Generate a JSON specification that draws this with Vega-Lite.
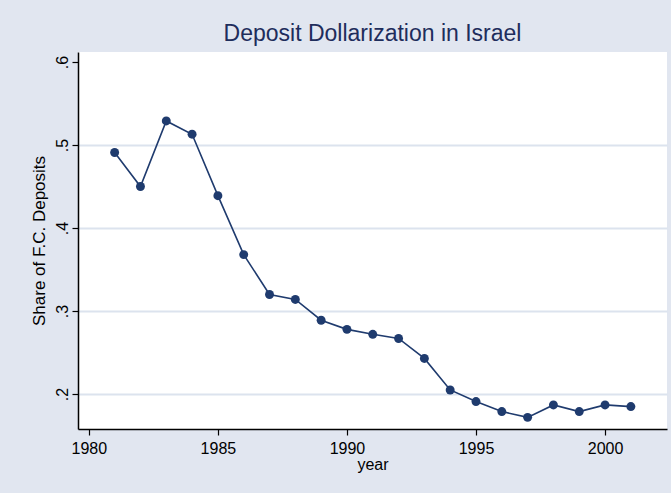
{
  "$schema": "https://vega.github.io/schema/vega-lite/v6.json",
  "width": 589,
  "height": 377,
  "autosize": {"type": "none"},
  "padding": {"left": 78, "top": 52, "right": 4, "bottom": 64},
  "background": "#E1E6F0",
  "title": {
    "text": "Deposit Dollarization in Israel",
    "font": "Liberation Sans",
    "fontSize": 23,
    "fontWeight": "normal",
    "color": "#1E2D5C",
    "anchor": "middle",
    "offset": 6
  },
  "config": {
    "view": {"fill": "white", "stroke": null},
    "axis": {"labelFont": "Liberation Sans", "titleFont": "Liberation Sans", "labelColor": "black", "titleColor": "black", "domainColor": "black", "tickColor": "black", "labelFontSize": 16, "titleFontSize": 16, "titleFontWeight": "normal", "domainWidth": 1.5, "tickWidth": 1.2, "tickSize": 6}
  },
  "data": {
    "values": [
      {"year": 1981, "share": 0.491},
      {"year": 1982, "share": 0.450},
      {"year": 1983, "share": 0.529},
      {"year": 1984, "share": 0.513},
      {"year": 1985, "share": 0.439},
      {"year": 1986, "share": 0.368},
      {"year": 1987, "share": 0.320},
      {"year": 1988, "share": 0.314},
      {"year": 1989, "share": 0.289},
      {"year": 1990, "share": 0.278},
      {"year": 1991, "share": 0.272},
      {"year": 1992, "share": 0.267},
      {"year": 1993, "share": 0.243},
      {"year": 1994, "share": 0.205},
      {"year": 1995, "share": 0.191},
      {"year": 1996, "share": 0.179},
      {"year": 1997, "share": 0.172},
      {"year": 1998, "share": 0.187},
      {"year": 1999, "share": 0.179},
      {"year": 2000, "share": 0.187},
      {"year": 2001, "share": 0.185}
    ]
  },
  "encoding": {
    "x": {
      "field": "year", "type": "quantitative",
      "scale": {"domain": [1979.58, 2002.4], "nice": false, "zero": false},
      "axis": {"values": [1980, 1985, 1990, 1995, 2000], "format": "d", "grid": false, "title": "year", "labelPadding": 5, "titlePadding": 0}
    },
    "y": {
      "field": "share", "type": "quantitative",
      "scale": {"domain": [0.158, 0.612], "nice": false, "zero": false},
      "axis": {
        "values": [0.2, 0.3, 0.4, 0.5, 0.6],
        "labelExpr": "replace(format(datum.value, '.1f'), '0.', '.')",
        "labelAngle": -90, "labelAlign": "center", "labelBaseline": "bottom", "labelPadding": 2,
        "title": "Share of F.C. Deposits", "titleFontSize": 17, "titlePadding": 6,
        "grid": true, "gridColor": "#DCE3EE", "gridWidth": 2,
        "gridOpacity": {"condition": {"test": "datum.value > 0.55", "value": 0}, "value": 1}
      }
    }
  },
  "layer": [
    {"mark": {"type": "line", "color": "#1F3B6E", "strokeWidth": 1.6}},
    {"mark": {"type": "point", "filled": true, "color": "#1F3B6E", "opacity": 1, "size": 80}}
  ]
}
